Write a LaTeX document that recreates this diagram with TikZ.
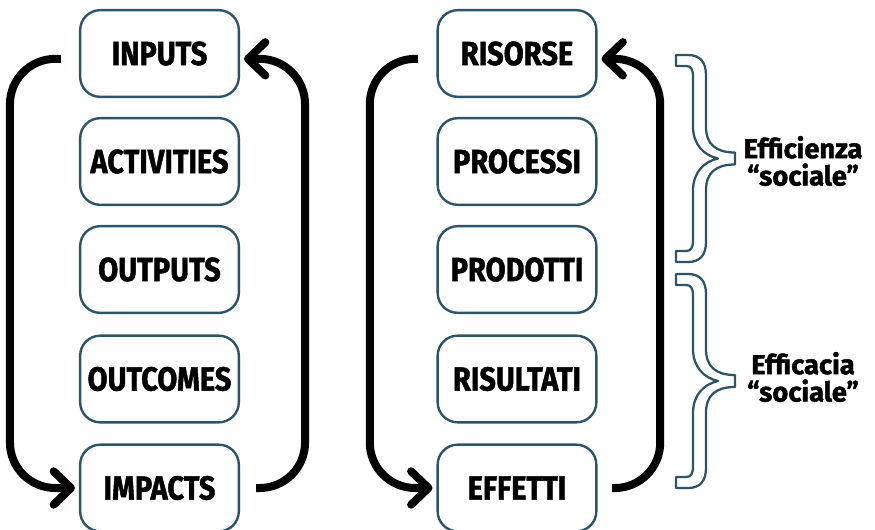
\documentclass[tikz,border=0pt]{standalone}
\usepackage{fontspec}
\usepackage{xcolor}
\usepackage{tikz}
\usetikzlibrary{positioning,arrows.meta,calc}
\newfontfamily\boxfont[FakeStretch=0.87,BoldFeatures={FakeBold=1.3}]{Fira Sans}
\newfontfamily\labfont[BoldFeatures={FakeBold=1.5}]{Fira Sans}
\definecolor{ciclopetrol}{HTML}{2B5468}
\tikzset{
  stagebox/.style={rounded corners=15pt, draw=ciclopetrol, line width=1.8pt, fill=white,
             minimum width=119pt, minimum height=65pt, align=center,
             font=\boxfont\bfseries\fontsize{25}{27}\selectfont},
  loopline/.style={line width=6pt, rounded corners=34pt,
             -{Straight Barb[length=13pt,width=25pt,round]}},
  bracelab/.style={align=center, font=\labfont\bfseries\fontsize{20.5}{20.5}\selectfont},
  pics/hbrace/.style={code={
    \draw[ciclopetrol, line width=1.7pt, fill=white, line join=round]
      (0,0) -- (12,0) .. controls (24,0) and (30,7) .. (30,20)
      -- (30,{#1-32}) .. controls (30,{#1-14}) and (40,{#1-6}) .. (59,{#1-6})
      -- (59,{#1+6}) .. controls (40,{#1+6}) and (30,{#1+14}) .. (30,{#1+32})
      -- (30,{2*#1-20}) .. controls (30,{2*#1-7}) and (24,{2*#1}) .. (12,{2*#1})
      -- (0,{2*#1}) -- (0,{2*#1-11}) -- (10,{2*#1-11})
      .. controls (15,{2*#1-11}) and (17,{2*#1-14}) .. (17,{2*#1-22})
      -- (17,{#1+32}) .. controls (17,{#1+14}) and (28,{#1+3}) .. (42,{#1})
      .. controls (28,{#1-3}) and (17,{#1-14}) .. (17,{#1-32})
      -- (17,22) .. controls (17,14) and (15,11) .. (10,11) -- (0,11) -- cycle;
  }},
}

\begin{document}
\begin{tikzpicture}[x=0.75pt,y=-0.75pt]
  \useasboundingbox (0,0) rectangle (875,529);
  % LEFT: english stages
  \node[stagebox] (inp)  at (159.5,53.5)  {INPUTS};
  \node[stagebox] (act)  at (159.5,161.5) {ACTIVITIES};
  \node[stagebox] (outp) at (159.5,269.5) {OUTPUTS};
  \node[stagebox] (outc) at (159.5,379)   {OUTCOMES};
  \node[stagebox] (imp)  at (159.5,488)   {IMPACTS};
  \draw[loopline] ([xshift=-13.5pt,yshift=-4pt]inp.west) -- ++(-51,0) |- ([xshift=-3pt]imp.west);
  \draw[loopline] ([xshift=12pt]imp.east) -- ++(49,0) |- ([xshift=3pt,yshift=-4pt]inp.east);
  % RIGHT: italian stages
  \node[stagebox] (ris)  at (517,53.5)  {RISORSE};
  \node[stagebox] (proc) at (517,161.5) {PROCESSI};
  \node[stagebox] (prod) at (517,269.5) {PRODOTTI};
  \node[stagebox] (risu) at (517,379)   {RISULTATI};
  \node[stagebox] (eff)  at (517,488)   {EFFETTI};
  \draw[loopline] ([xshift=-14pt,yshift=-4pt]ris.west) -- ++(-48,0) |- ([xshift=-3pt]eff.west);
  \draw[loopline] ([xshift=11pt]eff.east) -- ++(48,0) |- ([xshift=3pt,yshift=-4pt]ris.east);
  % braces
  \pic at (676,55) {hbrace=103.5};
  \pic at (676,274) {hbrace=107};
  \node[bracelab] (effz) at (803,161) {Efficienza\\“sociale”};
  \node[bracelab] (effc) at (803,377) {Efficacia\\“sociale”};
\end{tikzpicture}
\end{document}
